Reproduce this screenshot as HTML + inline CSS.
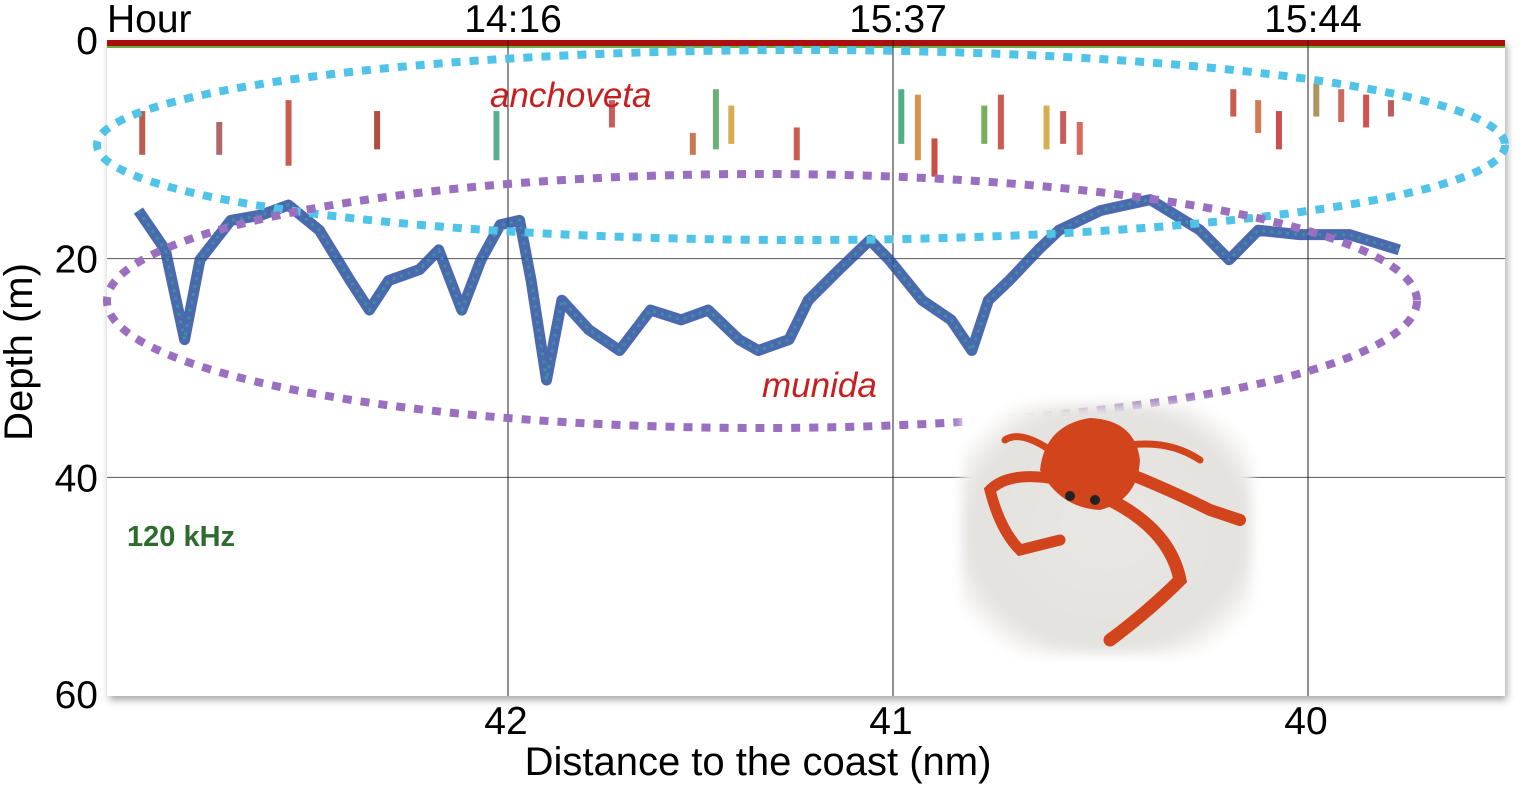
<!DOCTYPE html>
<html><head><meta charset="utf-8"><style>
body{margin:0;background:#fff;width:1535px;height:787px;overflow:hidden;font-family:"Liberation Sans",sans-serif}
svg{position:absolute;left:0;top:0}
</style></head><body>
<svg id="chart" width="1535" height="787">
<defs>
<radialGradient id="photoBg" cx="50%" cy="50%" r="60%">
<stop offset="0%" stop-color="#e9e7e4"/><stop offset="80%" stop-color="#e4e2df"/><stop offset="100%" stop-color="#ffffff"/>
</radialGradient>
<filter id="soft"><feGaussianBlur stdDeviation="6"/></filter>
<filter id="shadow" x="-5%" y="-5%" width="110%" height="115%"><feDropShadow dx="2" dy="4" stdDeviation="4" flood-color="#000" flood-opacity="0.35"/></filter>
</defs>
<g id="plot"></g>
</svg>
<script>
const xTickValues=[42,41,40];
const yTickValues=[0,20,40,60];
const hourLabels=["14:16","15:37","15:44"];
const munidaDist=[42.96,42.89,42.84,42.80,42.72,42.64,42.57,42.49,42.41,42.36,42.31,42.23,42.18,42.12,42.07,42.02,41.97,41.94,41.90,41.86,41.79,41.71,41.63,41.55,41.48,41.40,41.35,41.27,41.22,41.14,41.06,41.01,40.93,40.86,40.81,40.77,40.72,40.65,40.60,40.50,40.38,40.26,40.19,40.12,40.02,39.90,39.78];
const munidaDepth=[15.6,19.2,27.4,20.1,16.5,16.0,15.1,17.4,22.0,24.7,22.0,21.0,19.2,24.7,20.1,16.9,16.5,22.0,31.1,23.8,26.5,28.4,24.7,25.6,24.7,27.4,28.4,27.4,23.8,21.0,18.3,20.1,23.8,25.6,28.4,23.8,22.0,19.2,17.4,15.6,14.6,17.4,20.1,17.4,17.8,17.8,19.2];
const schoolDist=[42.95,42.75,42.57,42.34,42.03,41.73,41.52,41.46,41.42,41.25,40.98,40.94,40.90,40.78,40.74,40.63,40.59,40.55,40.18,40.12,40.07,39.98,39.92,39.86,39.80];
const schoolTop=[6.5,7.5,5.5,6.5,6.5,5.5,8.5,4.5,6.0,8.0,4.5,5.0,9.0,6.0,5.0,6.0,6.5,7.5,4.5,5.5,6.5,4.0,4.5,5.0,5.5];
const schoolBottom=[10.5,10.5,11.5,10.0,11.0,8.0,10.5,10.0,9.5,11.0,9.5,11.0,12.5,9.5,10.0,10.0,9.5,10.5,7.0,8.5,10.0,7.0,7.5,8.0,7.0];
const schoolColor=["#b04030","#a05050","#c04030","#a03020","#40a080","#c04040","#c06030","#50a060","#d0a030","#c04030","#30a070","#d08030","#c03020","#60a040","#c04030","#d0a030","#c04040","#d05040","#c04030","#d06030","#c03030","#a08040","#c05040","#d03030","#b04040"];

const L=107,R=1505,T=40,B=696;
const xPx=[508,893,1308];
function xScale(d){
  if(d>=xTickValues[1]){const s=(xPx[1]-xPx[0])/(xTickValues[0]-xTickValues[1]);return xPx[0]+(xTickValues[0]-d)*s;}
  const s=(xPx[2]-xPx[1])/(xTickValues[1]-xTickValues[2]);return xPx[1]+(xTickValues[1]-d)*s;
}
function yScale(v){return T+(v/60)*(B-T);}
const NS="http://www.w3.org/2000/svg";
const g=document.getElementById('plot');
function mk(tag,attrs,parent){const e=document.createElementNS(NS,tag);for(const k in attrs)e.setAttribute(k,attrs[k]);(parent||g).appendChild(e);return e;}

let frame=mk('rect',{x:L,y:T,width:R-L,height:B-T,fill:'#fff',filter:'url(#shadow)'});


let band=mk('rect',{x:L,y:T,width:R-L,height:6,fill:'#a81010'});


let band2=mk('rect',{x:L,y:T+6,width:R-L,height:2,fill:'#6cb040'});



yTickValues.slice(1,3).forEach(v=>{
  let l=mk('line',{x1:L,x2:R,y1:yScale(v),y2:yScale(v),stroke:'#555','stroke-width':1});
  
  
});
xTickValues.forEach(v=>{
  let l=mk('line',{x1:xScale(v),x2:xScale(v),y1:T,y2:B,stroke:'#222','stroke-width':1});
  
  
});

schoolDist.forEach((d,i)=>{
  let r=mk('rect',{x:xScale(d)-3,y:yScale(schoolTop[i]),width:6,height:yScale(schoolBottom[i])-yScale(schoolTop[i]),fill:schoolColor[i],opacity:0.85});
  
  
});

let pts=munidaDist.map((d,i)=>xScale(d)+','+yScale(munidaDepth[i])).join(' ');
let seg=mk('polyline',{points:pts,fill:'none',stroke:'#2a4fa0','stroke-width':11,'stroke-linejoin':'round',opacity:0.85});


let seg2=mk('polyline',{points:pts,fill:'none',stroke:'#3a9a9a','stroke-width':3,'stroke-dasharray':'3 5',opacity:0.8});



let e1=mk('ellipse',{cx:801,cy:145,rx:704,ry:95,fill:'none',stroke:'#4fc3e8','stroke-width':8,'stroke-dasharray':'9 9'});


let e2=mk('ellipse',{cx:762,cy:301,rx:655,ry:127,fill:'none',stroke:'#9b6fc0','stroke-width':8,'stroke-dasharray':'9 9'});



function txt(s,attrs,name){let t=mk('text',attrs);t.textContent=s;return t;}
txt('anchoveta',{x:490,y:107,'font-size':35,'font-style':'italic',fill:'#c81e1e'},'anchoveta-label');
txt('munida',{x:762,y:397,'font-size':35,'font-style':'italic',fill:'#c81e1e'},'munida-label');
txt('120 kHz',{x:127,y:546,'font-size':29,'font-weight':'bold',fill:'#2e6b2e'},'frequency-label');

let pg=mk('g',{});


mk('rect',{x:962,y:404,width:290,height:250,fill:'url(#photoBg)',filter:'url(#soft)'},pg);
const crab='#d2441c';
mk('path',{d:'M1040 470 Q1045 425 1090 418 Q1135 420 1140 460 Q1138 500 1100 510 Q1060 508 1040 470Z',fill:crab},pg);
mk('path',{d:'M1120 470 Q1170 490 1210 510 L1240 520',stroke:crab,'stroke-width':12,fill:'none','stroke-linecap':'round'},pg);
mk('path',{d:'M1110 500 Q1170 530 1180 580 Q1150 610 1110 640',stroke:crab,'stroke-width':13,fill:'none','stroke-linecap':'round'},pg);
mk('path',{d:'M1060 480 Q1010 470 990 490 Q1000 530 1020 550 L1060 540',stroke:crab,'stroke-width':11,fill:'none','stroke-linecap':'round'},pg);
mk('path',{d:'M1050 450 Q1020 430 1005 440',stroke:crab,'stroke-width':7,fill:'none','stroke-linecap':'round'},pg);
mk('path',{d:'M1130 445 Q1170 440 1200 460',stroke:crab,'stroke-width':7,fill:'none','stroke-linecap':'round'},pg);
mk('circle',{cx:1070,cy:496,r:5,fill:'#222'},pg);mk('circle',{cx:1095,cy:500,r:5,fill:'#222'},pg);

yTickValues.forEach(v=>{
  txt(String(v),{x:98,y:Math.min(yScale(v)+14,708),'font-size':39,'text-anchor':'end',fill:'#000'},'y-tick-label');
});
xTickValues.forEach(v=>{
  txt(String(v),{x:xScale(v)-2,y:734,'font-size':39,'text-anchor':'middle',fill:'#000'},'x-tick-label');
});
txt('Hour',{x:107,y:32,'font-size':39,fill:'#000'},'hour-label');
hourLabels.forEach((h,i)=>{
  txt(h,{x:xScale(xTickValues[i])+5,y:32,'font-size':39,'text-anchor':'middle',fill:'#000'},'hour-tick-label');
});
txt('Distance to the coast (nm)',{x:758,y:775,'font-size':40,'text-anchor':'middle',fill:'#000'},'x-axis-title');
txt('Depth (m)',{x:0,y:0,'font-size':40,'text-anchor':'middle',fill:'#000',transform:'translate(32,352) rotate(-90)'},'y-axis-title');
</script>
</body></html>
